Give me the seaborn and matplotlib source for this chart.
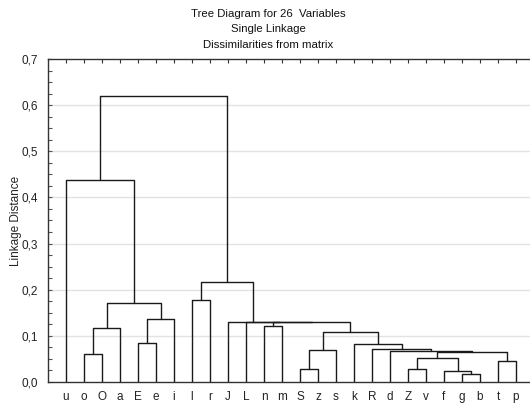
import matplotlib
matplotlib.use('Agg')
import matplotlib.pyplot as plt
import seaborn as sns
import numpy as np
import pandas as pd

# leaf order along the x axis
leaves = ['u', 'o', 'O', 'a', 'E', 'e', 'i', 'l', 'r', 'J', 'L', 'n', 'm',
          'S', 'z', 's', 'k', 'R', 'd', 'Z', 'v', 'f', 'g', 'b', 't', 'p']

# merges: left cluster, right cluster, linkage distance
# (a cluster is named by joining its leaves)
merge_left = ['g', 'f', 'Z', 'S', 't', 'Zv', 'o', 'Zvfgb', 'd', 'Sz', 'R', 'k',
              'E', 'Sz' + 's', 'oO', 'n', 'nm', 'L', 'J', 'Ee', 'oOa', 'l',
              'lr', 'u', 'uoOaEei']
merge_right = ['b', 'gb', 'v', 'z', 'p', 'fgb', 'O', 'tp', 'Zvfgbtp', 's',
               'dZvfgbtp', 'RdZvfgbtp', 'e', 'kRdZvfgbtp', 'a', 'm',
               'SzskRdZvfgbtp', 'nmSzskRdZvfgbtp', 'LnmSzskRdZvfgbtp', 'i', 'Eei',
               'r', 'JLnmSzskRdZvfgbtp', 'oOaEei', 'lrJLnmSzskRdZvfgbtp']
merge_height = [0.016, 0.0226, 0.027, 0.0276, 0.045, 0.0508, 0.060, 0.0645,
                0.0673, 0.0695, 0.0703, 0.081, 0.0834, 0.1085, 0.1166, 0.122,
                0.1295, 0.130, 0.1305, 0.1355, 0.1715, 0.177, 0.216, 0.438, 0.621]

y_ticks = [0.0, 0.1, 0.2, 0.3, 0.4, 0.5, 0.6, 0.7]
title_lines = ['Tree Diagram for 26  Variables', 'Single Linkage',
               'Dissimilarities from matrix']

# build the U-shaped links of the tree
pos = {name: i + 1 for i, name in enumerate(leaves)}
hgt = {name: 0.0 for name in leaves}
rows = []
for k, (lft, rgt, h) in enumerate(zip(merge_left, merge_right, merge_height)):
    xl, xr = pos[lft], pos[rgt]
    for x, y in zip([xl, xl, xr, xr], [hgt[lft], h, h, hgt[rgt]]):
        rows.append({'node': k, 'x': x, 'y': y})
    pos[lft + rgt] = (xl + xr) / 2
    hgt[lft + rgt] = h
links = pd.DataFrame(rows)

sns.set_theme(style='white')
plt.rcParams['font.family'] = ['Liberation Sans', 'DejaVu Sans']

fig = plt.figure(figsize=(5.3, 4.03), dpi=100)
ax = fig.add_axes([48 / 530, 21.3 / 403, 486 / 530, 322.4 / 403])

for yt in y_ticks[1:-1]:
    ax.axhline(yt, color='#e3e3e3', lw=1, zorder=0)

sns.lineplot(data=links, x='x', y='y', units='node', estimator=None, sort=False,
             color='#1a1a1a', lw=1, ax=ax)

ax.set_xlim(0, 27)
ax.set_ylim(0, 0.7)
ax.set_xticks(range(1, 27))
ax.set_xticklabels(leaves, fontsize=8.5, color='#222222')
ax.set_yticks(y_ticks)
ax.set_yticklabels([f'{v:.1f}'.replace('.', ',') for v in y_ticks], fontsize=8.5,
                   color='#222222')
ax.set_yticks(np.arange(0, 0.7, 0.025), minor=True)
ax.tick_params(axis='x', which='major', top=True, bottom=False, direction='in',
               length=3, width=0.8, color='#333333', pad=7)
ax.tick_params(axis='y', which='both', left=True, direction='in', length=3,
               width=0.8, color='#555555', pad=7)
ax.set_xlabel('')
ax.set_ylabel('Linkage Distance', fontsize=8.5, color='#222222', labelpad=0)

for side in ['left', 'top', 'bottom', 'right']:
    ax.spines[side].set_color('#333333')
    ax.spines[side].set_linewidth(1)

for i, line in enumerate(title_lines):
    fig.text(268 / 530, 1 - (14 + 15.3 * i) / 403, line, ha='center', va='center',
             fontsize=8.2, color='#111111')

fig.savefig('out.png', dpi=100)
